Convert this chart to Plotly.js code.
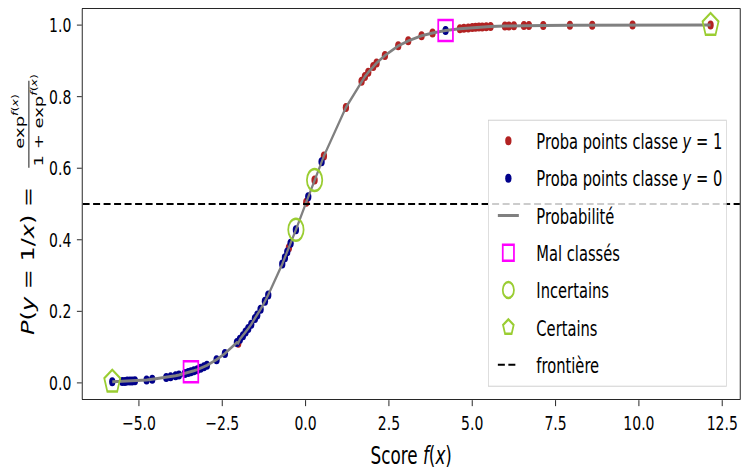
<!DOCTYPE html>
<html><head><meta charset="utf-8">
<script src="https://cdn.plot.ly/plotly-3.0.1.min.js"></script>
<style>
html,body{margin:0;padding:0;overflow:hidden;background:#fff;width:745px;height:471px}
#wrap{width:745px;height:471px;overflow:hidden}
#chart{width:1064px;height:471px;transform:scaleX(0.7);transform-origin:0 0}
</style>
</head><body><div id="wrap"><div id="chart"></div></div>
<script>
// Class 1 points (red)
const redX = [-2.02, -0.5, 0.02, 0.27, 0.55, 1.21, 1.68, 1.78, 1.88, 2.03, 2.13, 2.38, 2.78, 3.08, 3.48, 3.81,
  4.63, 4.75, 4.88, 5.0, 5.1, 5.2, 5.3, 5.42, 5.55, 5.98, 6.1, 6.25, 6.55, 6.7, 7.13, 7.93, 8.6, 9.81, 12.15];
const redY = [0.111, 0.378, 0.505, 0.567, 0.634, 0.770, 0.843, 0.856, 0.868, 0.884, 0.894, 0.915, 0.942, 0.956, 0.970, 0.978,
  0.990, 0.991, 0.992, 0.993, 0.994, 0.9945, 0.995, 0.9956, 0.9961, 0.9975, 0.9978, 0.998, 0.9986, 0.9988, 0.9992, 0.9996, 0.9998, 0.99995, 0.99999];
// Class 0 points (blue)
const blueX = [-5.8, -5.5, -5.42, -5.35, -5.27, -5.2, -5.12, -4.77, -4.6, -4.18, -4.05, -3.9, -3.8, -3.62, -3.52, -3.44,
  -3.35, -3.25, -3.15, -3.05, -2.96, -2.67, -2.42, -2.06, -1.97, -1.88, -1.8, -1.72, -1.63, -1.52, -1.45, -1.35,
  -1.22, -1.12, -0.7, -0.62, -0.55, -0.45, -0.29, 0.08, 0.48, 4.2];
const blueY = [0.003, 0.004, 0.004, 0.005, 0.005, 0.005, 0.006, 0.008, 0.010, 0.015, 0.017, 0.020, 0.022, 0.026, 0.029, 0.031,
  0.034, 0.037, 0.041, 0.045, 0.049, 0.065, 0.082, 0.113, 0.122, 0.132, 0.142, 0.152, 0.164, 0.180, 0.190, 0.206,
  0.228, 0.246, 0.332, 0.350, 0.366, 0.390, 0.428, 0.520, 0.618, 0.985];
// Highlighted points
const malX = [-3.44, 4.2], malY = [0.031, 0.985];
const incX = [-0.29, 0.27], incY = [0.428, 0.567];
const cerX = [-5.8, 12.15], cerY = [0.003, 0.99999];
const frontiere = 0.5;
const xRange = [-6.69, 13.03];
const yRange = [-0.045, 1.045];
const xTicks = [-5, -2.5, 0, 2.5, 5, 7.5, 10, 12.5];
const yTicks = [0, 0.2, 0.4, 0.6, 0.8, 1.0];
const names = ['Proba points classe <i>y</i> = 1', 'Proba points classe <i>y</i> = 0', 'Probabilité',
  'Mal classés', 'Incertains', 'Certains', 'frontière'];

// Probability curve through all scored points (sorted by score)
const all = redX.map((x, i) => [x, redY[i]]).concat(blueX.map((x, i) => [x, blueY[i]])).sort((a, b) => a[0] - b[0]);
const lineX = all.map(p => p[0]), lineY = all.map(p => p[1]);

const pad = '&nbsp;&nbsp;&nbsp;';
const F = 'DejaVu Sans';
const traces = [
  {type: 'scatter', mode: 'markers', x: redX, y: redY, name: pad + names[0], legendgroup: 'a',
   marker: {color: '#b22222', size: 9}},
  {type: 'scatter', mode: 'markers', x: blueX, y: blueY, name: pad + names[1], legendgroup: 'b',
   marker: {color: '#00008b', size: 9}},
  {type: 'scatter', mode: 'lines', x: lineX, y: lineY, name: pad + names[2], legendgroup: 'c',
   line: {color: '#808080', width: 3}},
  {type: 'scatter', mode: 'markers', x: malX, y: malY, name: pad + names[3], legendgroup: 'd',
   marker: {symbol: 'square-open', color: '#ff00ff', size: 21, line: {width: 2.5}}},
  {type: 'scatter', mode: 'markers', x: incX, y: incY, name: pad + names[4], legendgroup: 'e',
   marker: {symbol: 'circle-open', color: '#9acd32', size: 22, line: {width: 2.5}}},
  {type: 'scatter', mode: 'markers', x: cerX, y: cerY, name: pad + names[5], legendgroup: 'f',
   marker: {symbol: 'pentagon-open', color: '#9acd32', size: 24, line: {width: 2.5}}},
  {type: 'scatter', mode: 'lines', x: xRange, y: [frontiere, frontiere], name: pad + names[6], legendgroup: 'g',
   line: {color: '#000000', width: 2, dash: '10px,5px'}}
];

const layout = {
  width: 1064, height: 471,
  margin: {l: 118, r: 7, t: 9, b: 72},
  paper_bgcolor: '#ffffff', plot_bgcolor: '#ffffff',
  font: {family: F, color: '#000000', size: 20},
  showlegend: true,
  legend: {
    x: 0.98, xanchor: 'right', y: 0.0315, yanchor: 'bottom',
    bgcolor: 'rgba(255,255,255,0.8)', bordercolor: '#d0d0d0', borderwidth: 1,
    font: {family: F, size: 21, color: '#000000'},
    traceorder: 'grouped', tracegroupgap: 7, indentation: 8
  },
  xaxis: {
    range: xRange, tickvals: xTicks, tickformat: '.1f',
    showline: true, mirror: true, linecolor: '#000000', linewidth: 1.3,
    showgrid: false, zeroline: false,
    ticks: 'outside', ticklen: 6, tickwidth: 1.3, tickcolor: '#000000',
    tickfont: {family: F, size: 20, color: '#000000'},
    title: {text: 'Score <i>f</i>(<i>x</i>)', font: {family: F, size: 24, color: '#000000'}, standoff: 13}
  },
  yaxis: {
    range: yRange, tickvals: yTicks, tickformat: '.1f',
    showline: true, mirror: true, linecolor: '#000000', linewidth: 1.3,
    showgrid: false, zeroline: false,
    ticks: 'outside', ticklen: 7, tickwidth: 1.3, tickcolor: '#000000',
    ticklabelstandoff: 4,
    tickfont: {family: F, size: 20, color: '#000000'}
  },
  annotations: [
    {xref: 'paper', yref: 'paper', x: 0, y: 0.354, xshift: -78, textangle: -90, showarrow: false,
     xanchor: 'center', yanchor: 'middle', text: '<i>P</i>(<i>y</i> = 1/<i>x</i>) =', font: {family: F, size: 24, color: '#000'}},
    {xref: 'paper', yref: 'paper', x: 0, y: 0.711, xshift: -92, textangle: -90, showarrow: false,
     xanchor: 'center', yanchor: 'middle', text: 'exp<sup><i>f</i>(<i>x</i>)</sup>', font: {family: F, size: 18, color: '#000'}},
    {xref: 'paper', yref: 'paper', x: 0, y: 0.714, xshift: -65, textangle: -90, showarrow: false,
     xanchor: 'center', yanchor: 'middle', text: '1 + exp<sup><i>f</i>(<i>x</i>)</sup>', font: {family: F, size: 18, color: '#000'}}
  ],
  shapes: [
    {type: 'line', xref: 'paper', yref: 'paper', x0: -0.0817, x1: -0.0817, y0: 0.593, y1: 0.816,
     line: {color: '#000000', width: 1.3}}
  ]
};

Plotly.newPlot('chart', traces, layout, {displayModeBar: false, responsive: false});
</script></body></html>
